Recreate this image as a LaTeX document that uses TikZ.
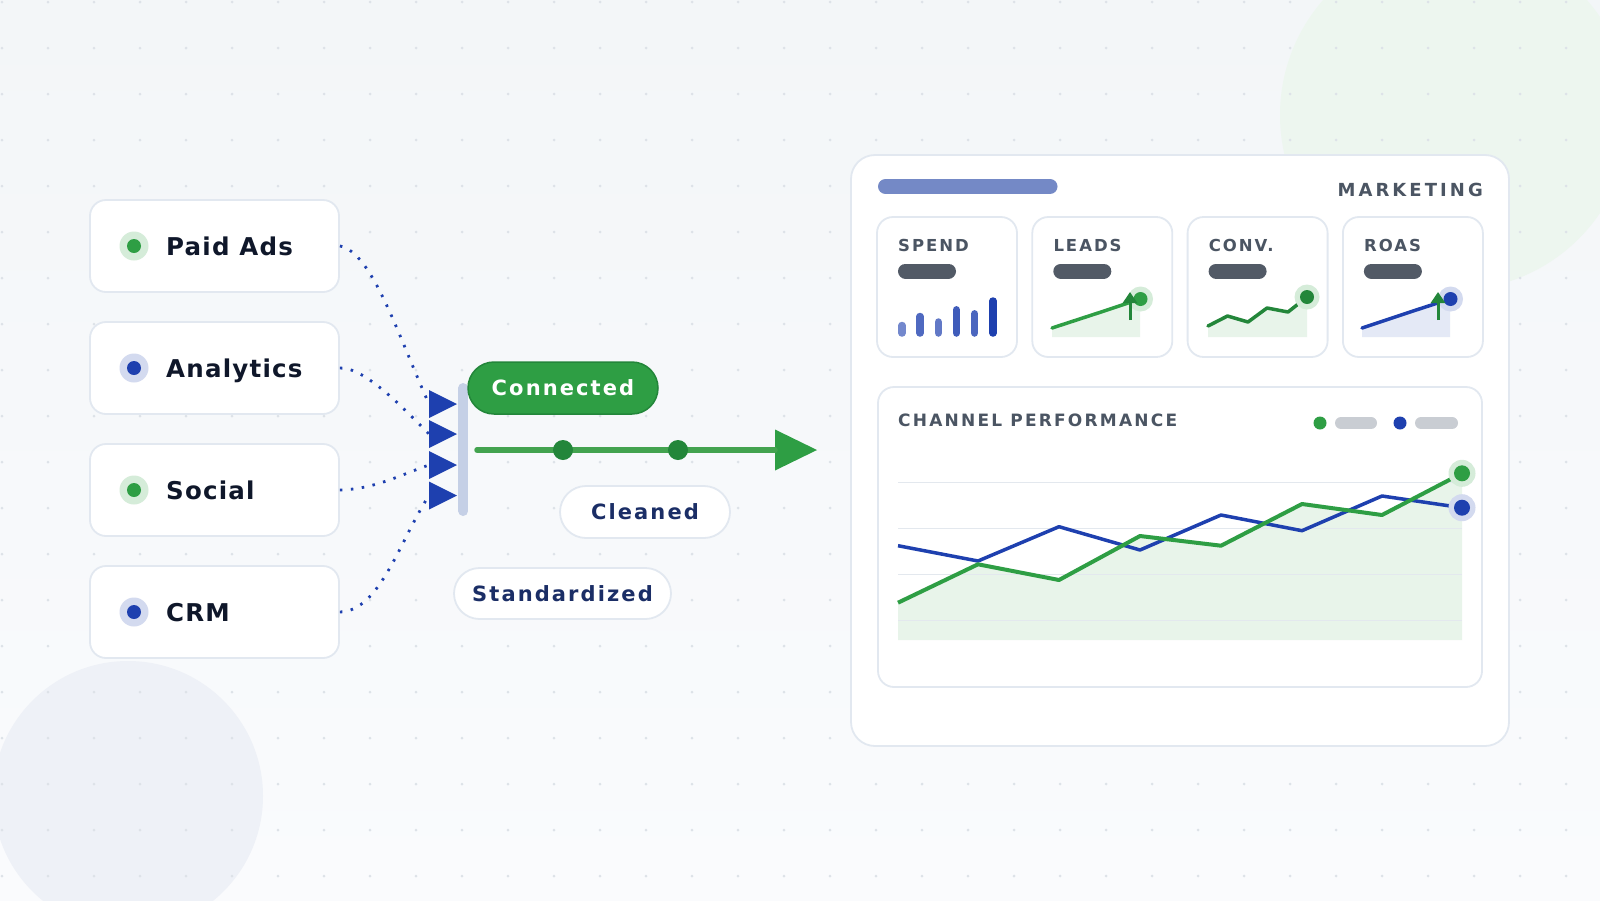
\documentclass[tikz,border=0pt]{standalone}
\usepackage{fontspec}
\setmainfont{DejaVu Sans}
\newfontfamily\srcf[LetterSpace=5]{DejaVu Sans}
\newfontfamily\pillf[LetterSpace=10]{DejaVu Sans}
\newfontfamily\mkf[LetterSpace=17]{DejaVu Sans}
\newfontfamily\kpif[LetterSpace=12]{DejaVu Sans}
\newfontfamily\chf[LetterSpace=13]{DejaVu Sans}
\usetikzlibrary{shapes.geometric,shapes.misc,arrows.meta}
\definecolor{bgtop}{HTML}{F3F6F8}
\definecolor{bgbot}{HTML}{FAFBFD}
\definecolor{griddot}{HTML}{DDE2E8}
\definecolor{cardline}{HTML}{E2E8F0}
\definecolor{ink}{HTML}{0F172A}
\definecolor{navy}{HTML}{1B2E66}
\definecolor{blu}{HTML}{1E40AF}
\definecolor{grn}{HTML}{2E9E44}
\definecolor{dgrn}{HTML}{23863A}
\definecolor{lgrn}{HTML}{43A34F}
\definecolor{slate}{HTML}{4B5563}
\definecolor{pillgray}{HTML}{525A66}
\definecolor{leggray}{HTML}{C9CDD3}
\definecolor{barcol}{HTML}{C5D0E6}
\definecolor{hdr}{HTML}{7489C6}
\definecolor{gfill}{HTML}{E8F4EA}
\definecolor{bfill}{HTML}{E4E9F6}
\definecolor{ghalo}{HTML}{D5ECD9}
\definecolor{bhalo}{HTML}{D3DAEF}
\definecolor{circG}{HTML}{EDF6EF}
\definecolor{circB}{HTML}{EEF1F7}
\definecolor{gridln}{HTML}{E3E8EE}
\tikzset{
  card/.style={draw=cardline, line width=1.8pt, fill=white, rounded corners=16pt, minimum width=249pt, minimum height=92pt, inner sep=0pt},
  halo/.style={circle, inner sep=0pt, minimum size=29pt},
  core/.style={circle, inner sep=0pt, minimum size=14pt},
  srclabel/.style={inner sep=0pt, text=ink, font=\srcf\bfseries\fontsize{24.5}{28}\selectfont},
  tri/.style={isosceles triangle, isosceles triangle stretches, minimum width=28pt, minimum height=28pt, inner sep=0pt, outer sep=0pt, fill=blu, anchor=apex},
  dotconn/.style={draw=blu, line width=2.8pt, dash pattern=on 2.5pt off 8.5pt},
  pill/.style={rounded rectangle, inner sep=0pt, font=\pillf\bfseries\fontsize{21}{25}\selectfont},
  wpill/.style={pill, fill=white, draw=cardline, line width=1.8pt, text=navy},
  panel/.style={draw=cardline, line width=1.8pt, fill=white, rounded corners=24pt, inner sep=0pt},
  kpi/.style={draw=cardline, line width=1.8pt, fill=white, rounded corners=16pt, minimum width=140pt, minimum height=140pt, inner sep=0pt},
  kpilabel/.style={inner sep=0pt, text=slate, anchor=base west, font=\kpif\bfseries\fontsize{16.5}{20}\selectfont},
  gpill/.style={line width=15pt, pillgray, line cap=round},
  spark/.style={line width=3.5pt, line cap=round, line join=round},
  flowdot/.style={circle, fill=dgrn, inner sep=0pt, minimum size=20pt},
}
\begin{document}
\begin{tikzpicture}[x=1pt,y=-1pt]
\useasboundingbox (0,0) rectangle (1600,900);
\shade[top color=bgtop,bottom color=bgbot] (0,0) rectangle (1600,900);
% background circles
\fill[circG] (1455,115) circle[radius=175pt];
\fill[circB] (128,796) circle[radius=135pt];
% dot grid
\foreach \x in {2,48,...,1600} \foreach \y in {2,48,...,900} \fill[griddot] (\x,\y) circle[radius=1.5pt];

% ---------- source cards ----------
\node[card] (paid) at (214.5,246) {};
\node[card] (anal) at (214.5,368) {};
\node[card] (soc)  at (214.5,490) {};
\node[card] (crm)  at (214.5,612) {};
\node[halo, fill=ghalo] (paidh) at (134,246) {};
\node[core, fill=grn] (paidd) at (134,246) {};
\node[halo, fill=bhalo] (analh) at (134,368) {};
\node[core, fill=blu] (anald) at (134,368) {};
\node[halo, fill=ghalo] (soch) at (134,490) {};
\node[core, fill=grn] (socd) at (134,490) {};
\node[halo, fill=bhalo] (crmh) at (134,612) {};
\node[core, fill=blu] (crmd) at (134,612) {};
\node[srclabel, anchor=base west] (paidl) at (166,255.5) {Paid Ads};
\node[srclabel, anchor=base west] (anall) at (166,377.5) {Analytics};
\node[srclabel, anchor=base west] (socl)  at (166,499.5) {Social};
\node[srclabel, anchor=base west] (crml)  at (166,621.5) {CRM};

% ---------- merge ----------
\node[tri] (t1) at (457,404) {};
\node[tri] (t2) at (457,434) {};
\node[tri] (t3) at (457,465) {};
\node[tri] (t4) at (457,495.5) {};
\draw[dotconn] (paid.east) .. controls (372,252) and (398,335) .. (t1.lower side);
\draw[dotconn] (anal.east) .. controls (365,367) and (405,410) .. (t2.lower side);
\draw[dotconn] (soc.east) .. controls (375,489) and (400,475) .. (t3.lower side);
\draw[dotconn] (crm.east) .. controls (380,611) and (400,540) .. (t4.lower side);
\draw[line width=10pt, barcol, line cap=round] (463.3,388) -- (463.3,511);

% ---------- flow ----------
\node[pill, fill=grn, draw=dgrn, line width=1.5pt, text=white, minimum width=190pt, minimum height=52pt] (conn) at (563,388) {Connected};
\coordinate (fs) at (477,450);
\node[isosceles triangle, isosceles triangle stretches, minimum width=41pt, minimum height=42pt, inner sep=0pt, outer sep=0pt, fill=grn, anchor=apex] (ah) at (817,450) {};
\draw[lgrn, line width=5.5pt, line cap=round] (fs) -- (ah.lower side);
\node[flowdot] (fd1) at (563,450) {};
\node[flowdot] (fd2) at (678,450) {};
\node[wpill, minimum width=170pt, minimum height=52pt] (clean) at (645,512) {Cleaned};
\node[wpill, minimum width=217pt, minimum height=51pt] (std) at (562.5,593.5) {Standardized};

% ---------- dashboard ----------
\node[panel, minimum width=658pt, minimum height=591pt] (dash) at (1180,450.5) {};
\draw[line width=15pt, hdr, line cap=round] (885.5,186.5) -- (1050,186.5);
\node[inner sep=0pt, anchor=base east, text=slate, font=\mkf\bfseries\fontsize{18}{22}\selectfont] (mk) at (1483,196) {MARKETING};

% KPI cards
\node[kpi] (k1) at (947,287) {};
\node[kpi] (k2) at (1102.3,287) {};
\node[kpi] (k3) at (1257.6,287) {};
\node[kpi] (k4) at (1412.9,287) {};
\node[kpilabel] (k1l) at (898,251) {SPEND};
\node[kpilabel] (k2l) at (1053.3,251) {LEADS};
\node[kpilabel] (k3l) at (1208.6,251) {CONV.};
\node[kpilabel] (k4l) at (1363.9,251) {ROAS};
\draw[gpill] (905.5,271) -- (948.5,271);
\draw[gpill] (1060.8,271) -- (1103.8,271);
\draw[gpill] (1216.1,271) -- (1259.1,271);
\draw[gpill] (1371.4,271) -- (1414.4,271);

% SPEND bars
\begin{scope}[line width=7.5pt, line cap=round]
\draw[blu, opacity=0.62] (902,325.5) -- (902,333);
\draw[blu, opacity=0.78] (920,316.5) -- (920,333);
\draw[blu, opacity=0.70] (938.3,322) -- (938.3,333);
\draw[blu, opacity=0.85] (956.3,309.8) -- (956.3,333);
\draw[blu, opacity=0.80] (974.7,313.8) -- (974.7,333);
\draw[blu] (993,301) -- (993,333);
\end{scope}

% LEADS
\fill[gfill] (1052,328) -- (1098,313) -- (1140,299) -- (1140,337) -- (1052,337) -- cycle;
\draw[spark, grn] (1052,328) -- (1098,313) -- (1140,299);
\fill[ghalo] (1140.5,299) circle[radius=12.5pt];
\fill[grn] (1140.5,299) circle[radius=7pt];
\draw[dgrn, line width=3pt, -{Triangle[width=14pt,length=11pt]}] (1130,320) -- (1130,292);

% CONV
\fill[gfill] (1208,326) -- (1227.5,316) -- (1248,322) -- (1267,308) -- (1288,312) -- (1307,297) -- (1307,337) -- (1208,337) -- cycle;
\draw[spark, dgrn] (1208,326) -- (1227.5,316) -- (1248,322) -- (1267,308) -- (1288,312) -- (1307,297);
\fill[ghalo] (1307,297) circle[radius=12.5pt];
\fill[dgrn] (1307,297) circle[radius=7pt];

% ROAS
\fill[bfill] (1362,328) -- (1410,312) -- (1450,299) -- (1450,337) -- (1362,337) -- cycle;
\draw[spark, blu] (1362,328) -- (1410,312) -- (1450,299);
\fill[bhalo] (1450.5,299) circle[radius=12.5pt];
\fill[blu] (1450.5,299) circle[radius=7pt];
\draw[dgrn, line width=3pt, -{Triangle[width=14pt,length=11pt]}] (1438,320) -- (1438,292);

% Channel performance
\node[kpi, minimum width=604pt, minimum height=300pt] (chart) at (1180,537) {};
\node[inner sep=0pt, anchor=base west, text=slate, font=\chf\bfseries\fontsize{17}{21}\selectfont] (cht) at (898,426) {CHANNEL PERFORMANCE};
\fill[grn] (1320,423) circle[radius=6.5pt];
\draw[line width=12pt, leggray, line cap=round] (1341,423) -- (1371,423);
\fill[blu] (1400,423) circle[radius=6.5pt];
\draw[line width=12pt, leggray, line cap=round] (1421,423) -- (1452,423);

\fill[gfill] (898,602.7) -- (978,564.3) -- (1059,580) -- (1140,536) -- (1221,545.7) -- (1302,504) -- (1382,515) -- (1462,473.3) -- (1462,640) -- (898,640) -- cycle;
\foreach \gy in {482.7,528.7,574.7,620.7}
  \draw[gridln, line width=1.5pt] (898,\gy) -- (1462,\gy);
\draw[line width=3.5pt, blu, line join=round] (898,545.7) -- (978,561) -- (1059,526.7) -- (1140,550) -- (1221,515) -- (1302,530.7) -- (1382,496) -- (1462,507.7);
\draw[line width=4pt, grn, line join=round] (898,602.7) -- (978,564.3) -- (1059,580) -- (1140,536) -- (1221,545.7) -- (1302,504) -- (1382,515) -- (1462,473.3);
\fill[ghalo] (1462,473.3) circle[radius=13.5pt];
\fill[grn] (1462,473.3) circle[radius=8pt];
\fill[bhalo] (1462,507.7) circle[radius=13.5pt];
\fill[blu] (1462,507.7) circle[radius=8pt];
\end{tikzpicture}
\end{document}
